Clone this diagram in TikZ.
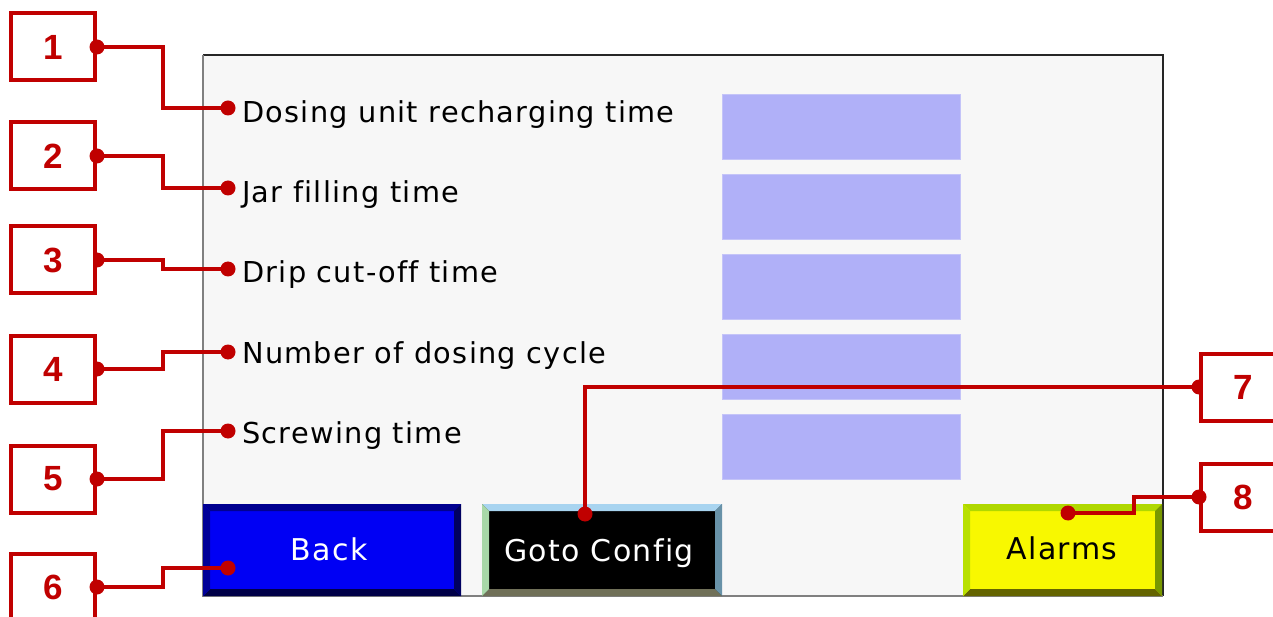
\documentclass[tikz,border=0pt]{standalone}
\usepackage{fontspec}
\setmainfont{Liberation Sans}
\newfontfamily\scrfont[LetterSpace=4.5,Ligatures=NoCommon]{DejaVu Sans}
\definecolor{callred}{HTML}{C00000}
\definecolor{panelbg}{HTML}{F7F7F7}
\definecolor{fieldbg}{HTML}{B0B0F8}
\definecolor{fieldbd}{HTML}{C4C4F8}
\definecolor{bkT}{HTML}{000090}
\definecolor{bkL}{HTML}{000098}
\definecolor{bkR}{HTML}{000060}
\definecolor{bkB}{HTML}{000048}
\definecolor{bkI}{HTML}{0000F4}
\definecolor{gcT}{HTML}{A8D4F0}
\definecolor{gcL}{HTML}{A8D8A8}
\definecolor{gcR}{HTML}{6892A8}
\definecolor{gcB}{HTML}{707058}
\definecolor{alT}{HTML}{B0D800}
\definecolor{alL}{HTML}{B8E000}
\definecolor{alR}{HTML}{789800}
\definecolor{alB}{HTML}{646400}
\definecolor{alI}{HTML}{F8F800}
\newcommand\bevbtn[9]{%
  \fill[#9] (#1,#2) rectangle (#3,#4);
  \fill[#5] (#1,#2) -- (#3,#2) -- (#3-7,#2+7) -- (#1+7,#2+7) -- cycle;
  \fill[#8] (#1,#4) -- (#3,#4) -- (#3-7,#4-7) -- (#1+7,#4-7) -- cycle;
  \fill[#6] (#1,#2) -- (#1+7,#2+7) -- (#1+7,#4-7) -- (#1,#4) -- cycle;
  \fill[#7] (#3,#2) -- (#3-7,#2+7) -- (#3-7,#4-7) -- (#3,#4) -- cycle;
}
\begin{document}
\begin{tikzpicture}[x=1pt,y=-1pt,
  numbox/.style={draw=callred, line width=4pt, fill=white, minimum width=84pt, minimum height=67pt, inner sep=0pt,
    text=callred, font=\fontsize{35}{35}\selectfont\bfseries},
  conn/.style={draw=callred, line width=4pt},
  dotc/.style={fill=callred},
  lbl/.style={anchor=base west, inner sep=0pt, font=\scrfont\fontsize{28.8}{29}\selectfont},
  btntext/.style={anchor=base, inner sep=0pt, font=\scrfont\fontsize{30}{30}\selectfont},
  field/.style={fill=fieldbg, draw=fieldbd, line width=0.8pt, minimum width=238pt, minimum height=65pt, inner sep=0pt}
]
\useasboundingbox (0,0) rectangle (1273,617);
\clip (0,0) rectangle (1273,617);
\fill[white] (0,0) rectangle (1273,617);

% panel
\fill[panelbg] (203,55) rectangle (1163,596);
\draw[line width=1.5pt, black!85] (203,55) -- (1163,55) -- (1163,596);
\draw[line width=1.5pt, black!50] (203,55) -- (203,596) -- (1163,596);

% fields
\foreach \k in {0,...,4} {
  \node[field] (f\k) at (841.5,126.5+80*\k) {};
}

% labels
\node[lbl] (l1) at (242,123) {Dosing unit recharging time};
\node[lbl] (l2) at (242,203) {Jar filling time};
\node[lbl] (l3) at (242,283) {Drip cut-off time};
\node[lbl] (l4) at (242,363) {Number of dosing cycle};
\node[lbl] (l5) at (242,443) {Screwing time};

% buttons
\bevbtn{203}{504}{461}{596}{bkT}{bkL}{bkR}{bkB}{bkI}
\bevbtn{482}{504}{722}{596}{gcT}{gcL}{gcR}{gcB}{black}
\bevbtn{963}{504}{1162}{596}{alT}{alL}{alR}{alB}{alI}
\node[btntext, text=white] (back) at (329,560) {Back};
\node[btntext, text=white] (goto) at (599,561) {Goto Config};
\node[btntext, text=black] (alarms) at (1062,559) {Alarms};

% dot coordinates
\coordinate (d1) at (228,108);
\coordinate (d2) at (228,188);
\coordinate (d3) at (228,269);
\coordinate (d4) at (228,352);
\coordinate (d5) at (228,431);
\coordinate (d6) at (228,568);
\coordinate (d7) at (585,514);
\coordinate (d8) at (1068,513);

% number boxes
\node[numbox] (n1) at (53,47) {1};
\node[numbox] (n2) at (53,156) {2};
\node[numbox] (n3) at (53,260) {3};
\node[numbox] (n4) at (53,369) {4};
\node[numbox] (n5) at (53,479) {5};
\node[numbox] (n6) at (53,587) {6};
\node[numbox] (n7) at (1243,387) {7};
\node[numbox] (n8) at (1243,497) {8};

% connectors
\draw[conn] (n1.east) -- ++(66,0) |- (d1);
\draw[conn] (n2.east) -- ++(66,0) |- (d2);
\draw[conn] (n3.east) -- ++(66,0) |- (d3);
\draw[conn] (n4.east) -- ++(66,0) |- (d4);
\draw[conn] (n5.east) -- ++(66,0) |- (d5);
\draw[conn] (n6.east) -- ++(66,0) |- (d6);
\draw[conn] (d7) |- (n7.west);
\draw[conn] (d8) -- (1134,513) |- (n8.west);

% dots
\foreach \d in {d1,d2,d3,d4,d5,d6,d7,d8,n1.east,n2.east,n5.east,n6.east,n8.west} {
  \fill[dotc] (\d) circle (7.5);
}
\fill[dotc] (n3.east) ++(0,-7.5) arc[start angle=-90, end angle=90, radius=7.5] -- cycle;
\fill[dotc] (n4.east) ++(0,-7.5) arc[start angle=-90, end angle=90, radius=7.5] -- cycle;
\fill[dotc] (n7.west) ++(0,7.5) arc[start angle=90, end angle=270, radius=7.5] -- cycle;
\end{tikzpicture}
\end{document}
